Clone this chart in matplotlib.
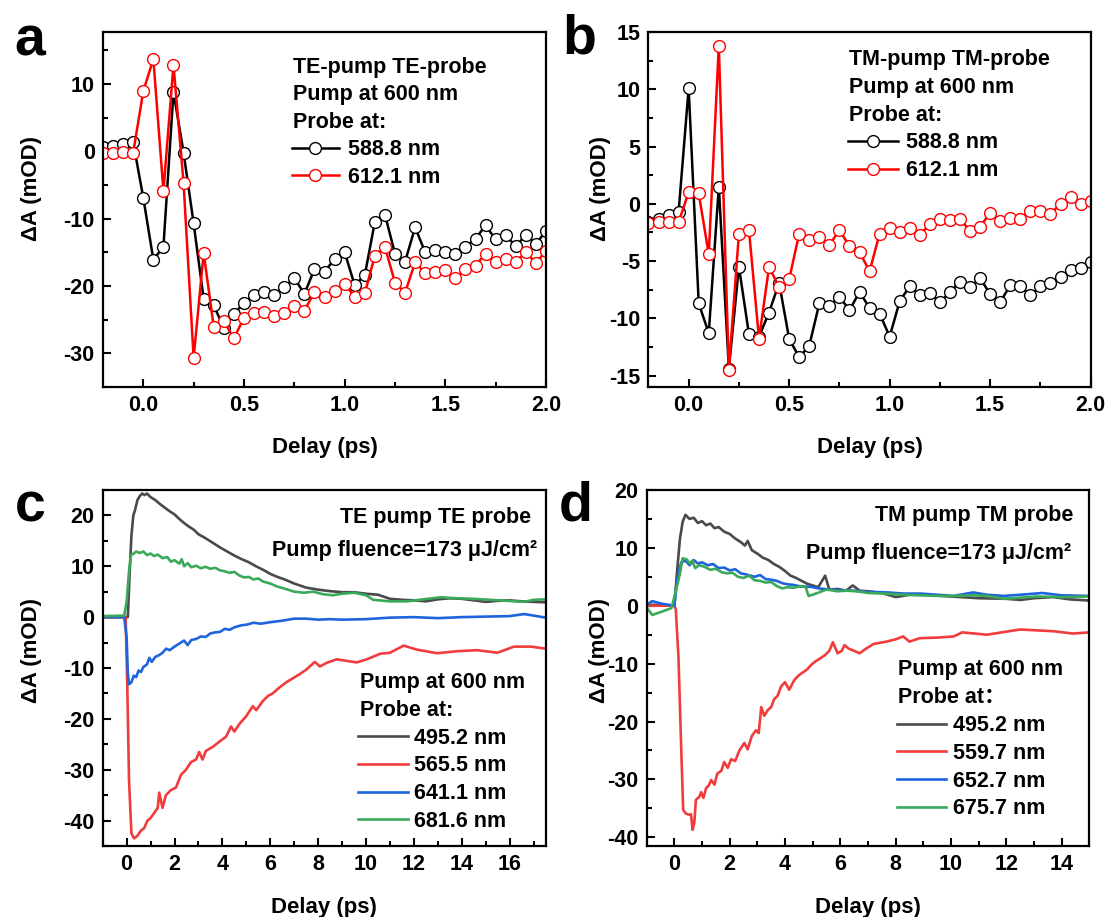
import matplotlib
matplotlib.use('Agg')
import matplotlib.pyplot as plt
from matplotlib.ticker import MultipleLocator
import numpy as np

plt.rcParams['font.family'] = ['Liberation Sans', 'DejaVu Sans']
plt.rcParams['font.weight'] = 'bold'
plt.rcParams['axes.labelweight'] = 'bold'
plt.rcParams['axes.unicode_minus'] = False

# ---- panel a / b : short delay, 0.05 ps steps ----
delay_short = np.round(np.arange(-0.2, 2.0001, 0.05), 2)

a_588 = [0.6, 0.8, 1.0, 1.3, -6.9, -16.1, -14.2, 8.8, -0.2, -10.7, -22.0, -22.9,
         -26.2, -24.1, -22.6, -21.3, -20.9, -21.3, -20.2, -18.8, -21.2, -17.5,
         -17.9, -16.0, -15.0, -19.9, -18.4, -10.5, -9.4, -15.2, -16.4, -11.3,
         -15.0, -14.7, -15.0, -15.3, -14.2, -13.0, -11.0, -13.1, -12.5, -14.1,
         -12.4, -13.8, -11.8]
a_612 = [-0.2, -0.2, -0.1, -0.2, 8.9, 13.7, -5.9, 12.8, -4.7, -30.7, -15.1, -26.1,
         -25.2, -27.8, -24.7, -24.0, -23.8, -24.5, -24.0, -23.0, -23.7, -20.9,
         -21.6, -20.8, -19.7, -21.6, -21.1, -15.5, -14.2, -19.5, -21.0, -16.5,
         -18.1, -17.9, -17.6, -18.8, -17.5, -17.0, -15.2, -16.5, -16.0, -16.4,
         -15.0, -16.6, -14.8]

b_588 = [-1.6, -1.3, -1.0, -0.7, 10.1, -8.7, -11.3, 1.5, -14.4, -5.5, -11.4, -11.6,
         -9.5, -6.9, -11.8, -13.4, -12.4, -8.7, -8.9, -8.1, -9.3, -7.7, -9.1,
         -9.6, -11.6, -8.5, -7.2, -8.0, -7.8, -8.6, -7.7, -6.8, -7.3, -6.5,
         -7.9, -8.6, -7.1, -7.2, -8.0, -7.2, -6.9, -6.4, -5.8, -5.6, -5.1]
b_612 = [-1.7, -1.6, -1.6, -1.6, 1.0, 0.9, -4.4, 13.8, -14.5, -2.6, -2.3, -11.8,
         -5.5, -7.3, -6.6, -2.6, -3.2, -2.9, -3.6, -2.3, -3.7, -4.2, -5.9, -2.6,
         -2.1, -2.5, -2.1, -2.7, -1.8, -1.3, -1.4, -1.3, -2.4, -2.0, -0.8, -1.5,
         -1.2, -1.3, -0.6, -0.6, -0.9, 0.0, 0.6, 0.0, 0.2]

# ---- panel c : TE pump TE probe ----
c_495_x = [-1, 0.05, 0.12, 0.2, 0.28, 0.35, 0.45, 0.55, 0.65, 0.75, 0.85, 1.0, 1.2,
           1.4, 1.6, 1.8, 2.0, 2.2, 2.4, 2.6, 2.8, 3.0, 3.3, 3.6, 3.9, 4.2, 4.5,
           4.8, 5.1, 5.4, 5.7, 6.0, 6.3, 6.6, 7.0, 7.5, 8.0, 8.5, 9.0, 9.5, 10.0,
           10.5, 11.0, 11.5, 12.0, 12.5, 13.0, 13.5, 14.0, 14.5, 15.0, 15.5, 16.0,
           16.5, 17.0, 17.5]
c_495_y = [0, 0, 8, 16, 20, 21, 23, 23.8, 24.3, 24.0, 24.3, 23.6, 23.0, 22.2, 21.5,
           20.8, 20.2, 19.3, 18.5, 17.8, 17.2, 16.3, 15.5, 14.6, 13.7, 12.9, 12.1,
           11.4, 10.8, 10.0, 9.3, 8.5, 7.9, 7.4, 6.6, 5.8, 5.4, 5.1, 4.9, 4.9, 4.6,
           4.4, 3.6, 3.4, 3.3, 3.1, 3.5, 3.7, 3.6, 3.3, 3.0, 3.2, 3.3, 3.1, 3.0, 2.9]

c_565_x = [-1, -0.04, 0.03, 0.1, 0.2, 0.31, 0.45, 0.59, 0.73, 0.87, 1.0, 1.15, 1.3,
           1.36, 1.5, 1.64, 1.85, 2.06, 2.27, 2.48, 2.69, 2.9, 3.03, 3.17, 3.31, 3.6,
           3.87, 4.15, 4.36, 4.5, 4.71, 4.99, 5.27, 5.41, 5.69, 5.9, 6.1, 6.39, 6.67,
           6.95, 7.23, 7.51, 7.86, 8.07, 8.35, 8.77, 9.19, 9.61, 10.03, 10.59, 11.0,
           11.57, 12.13, 12.97, 13.8, 14.64, 15.48, 16.18, 16.88, 17.5]
c_565_y = [0, 0, -14, -32, -42.5, -43.5, -43, -42, -41.5, -40, -39.5, -38.5, -37.5,
           -34.5, -37.5, -35, -34, -33.5, -31, -30, -28.5, -28, -26.5, -28, -26.3,
           -25.5, -24.5, -23.5, -21.5, -22.5, -21, -19.5, -17.5, -18.3, -16.5, -15.5,
           -15, -13.8, -12.8, -12, -11.2, -10.3, -8.8, -9.7, -9.0, -8.3, -8.6, -8.9,
           -8.3, -7.2, -7.0, -5.6, -6.4, -7.1, -6.7, -6.5, -7.0, -5.8, -5.8, -6.2]

c_641_x = [-1, -0.1, 0.0, 0.05, 0.1, 0.2, 0.3, 0.4, 0.5, 0.6, 0.7, 0.85, 0.95, 1.05,
           1.2, 1.35, 1.5, 1.65, 1.8, 2.0, 2.2, 2.4, 2.55, 2.7, 2.9, 3.1, 3.3, 3.5,
           3.7, 3.9, 4.1, 4.3, 4.5, 4.8, 5.0, 5.3, 5.6, 6.0, 6.5, 7.0, 7.5, 8.0, 8.5,
           9.0, 10.0, 11.0, 12.0, 13.0, 14.0, 15.0, 16.0, 16.6, 17.0, 17.5]
c_641_y = [0, 0, -4, -11, -13.2, -12.8, -11.5, -11.8, -10.5, -10.8, -9.8, -9.3, -8.0,
           -8.8, -7.8, -7.5, -7.0, -6.2, -6.5, -5.8, -5.2, -4.6, -5.5, -4.5, -4.3,
           -3.8, -3.9, -3.2, -3.0, -2.9, -2.3, -2.5, -2.0, -1.6, -1.5, -1.1, -1.3,
           -1.0, -0.7, -0.3, -0.3, -0.5, -0.4, -0.5, -0.4, -0.1, 0.0, -0.2, 0.0, 0.1,
           0.2, 0.6, 0.3, -0.1]

c_681_x = [-1, -0.1, 0.0, 0.1, 0.18, 0.3, 0.4, 0.55, 0.7, 0.85, 1.0, 1.15, 1.3, 1.5,
           1.7, 1.85, 2.0, 2.2, 2.3, 2.4, 2.55, 2.7, 2.9, 3.1, 3.3, 3.5, 3.7, 3.9,
           4.1, 4.3, 4.5, 4.7, 4.9, 5.1, 5.3, 5.5, 5.7, 6.0, 6.3, 6.6, 7.0, 7.4, 7.8,
           8.2, 8.6, 9.0, 9.5, 10.0, 10.3, 11.0, 11.7, 12.4, 13.1, 13.8, 14.5, 15.2,
           15.9, 16.6, 17.0, 17.5]
c_681_y = [0.2, 0.3, 3, 9, 12.2, 12.5, 12.9, 12.6, 12.9, 12.2, 12.5, 12.0, 12.3, 11.6,
           11.8, 10.9, 11.2, 10.5, 11.4, 10.0, 10.6, 9.8, 10.1, 9.6, 9.9, 9.5, 9.7,
           9.2, 9.0, 8.7, 8.9, 8.2, 7.8, 7.9, 7.4, 7.6, 7.0, 6.6, 6.0, 5.6, 5.0, 4.8,
           5.0, 4.5, 4.3, 4.6, 4.8, 4.3, 3.4, 3.1, 3.1, 3.5, 3.9, 3.7, 3.6, 3.4, 3.2,
           3.0, 3.4, 3.5]

# ---- panel d : TM pump TM probe ----
d_495_x = [-1, -0.5, 0.0, 0.1, 0.2, 0.3, 0.4, 0.55, 0.7, 0.85, 1.0, 1.15, 1.3, 1.45,
           1.6, 1.8, 2.0, 2.2, 2.4, 2.55, 2.65, 2.8, 3.0, 3.2, 3.4, 3.6, 3.8, 4.0,
           4.2, 4.4, 4.6, 4.8, 5.0, 5.2, 5.45, 5.6, 5.9, 6.2, 6.45, 6.7, 7.0, 7.5,
           8.0, 8.5, 9.0, 10.0, 11.0, 12.0, 12.5, 13.0, 13.7, 14.3, 15.0]
d_495_y = [0.2, 0.1, 0.0, 6, 11.5, 14.5, 15.7, 15.0, 15.2, 14.3, 14.6, 13.9, 14.2,
           13.4, 13.6, 12.8, 12.4, 11.6, 11.0, 10.4, 11.2, 9.6, 9.0, 8.3, 7.9, 7.2,
           6.7, 6.0, 5.2, 4.8, 4.3, 3.8, 3.5, 3.2, 5.2, 2.8, 2.9, 2.6, 3.5, 2.6, 2.5,
           2.2, 1.5, 1.9, 1.9, 1.6, 1.3, 1.2, 1.0, 1.3, 1.5, 1.1, 0.9]

d_559_x = [-1, 0.0, 0.05, 0.15, 0.25, 0.32, 0.42, 0.54, 0.6, 0.66, 0.72, 0.78, 0.9,
           0.97, 1.05, 1.15, 1.25, 1.33, 1.45, 1.55, 1.7, 1.8, 1.93, 2.05, 2.2, 2.35,
           2.53, 2.65, 2.8, 2.95, 3.05, 3.14, 3.25, 3.38, 3.5, 3.6, 3.74, 3.85, 4.0,
           4.15, 4.34, 4.5, 4.65, 4.8, 4.95, 5.1, 5.3, 5.45, 5.6, 5.73, 5.9, 6.05,
           6.15, 6.3, 6.5, 6.7, 6.9, 7.2, 7.66, 8.0, 8.27, 8.5, 8.87, 9.5, 10.1, 10.4,
           11.3, 12.5, 13.7, 14.4, 15.0]
d_559_y = [0, 0, -0.5, -9, -25, -35.3, -35.9, -36.1, -36.0, -38.7, -37.5, -33.5, -33.0,
           -32.2, -33.2, -31.5, -31.0, -30.1, -30.9, -29.0, -28.5, -27.0, -28.0, -26.5,
           -26.8, -25.0, -23.7, -24.8, -22.5, -21.5, -22.0, -17.5, -19.0, -18.0, -17.5,
           -16.2, -15.5, -14.0, -13.2, -14.5, -12.8, -12.0, -11.5, -11.0, -10.2, -9.6,
           -9.0, -8.5, -7.8, -6.3, -8.2, -7.8, -6.8, -7.4, -7.8, -8.2, -7.5, -6.6,
           -6.2, -5.8, -5.3, -6.2, -5.6, -5.5, -5.3, -4.6, -5.0, -4.1, -4.4, -4.8, -4.6]

d_652_x = [-1, -0.8, -0.5, 0.0, 0.1, 0.25, 0.4, 0.55, 0.7, 0.85, 1.0, 1.2, 1.4, 1.6,
           1.8, 2.0, 2.2, 2.4, 2.6, 2.9, 3.1, 3.3, 3.5, 3.7, 3.9, 4.1, 4.3, 4.6, 4.9,
           5.2, 5.6, 6.0, 6.5, 7.0, 7.7, 8.3, 8.9, 9.5, 10.1, 10.8, 11.3, 11.9, 12.5,
           13.3, 14.0, 15.0]
d_652_y = [0.2, 0.8, 0.4, 0.0, 4.5, 7.5, 7.8, 7.0, 7.9, 7.3, 7.5, 7.0, 7.2, 6.5, 6.6,
           6.1, 6.3, 5.6, 5.4, 5.0, 5.3, 4.6, 4.5, 4.3, 3.9, 3.7, 3.6, 3.3, 3.3, 3.0,
           2.8, 2.7, 2.6, 2.4, 2.3, 2.1, 2.1, 1.9, 1.7, 2.3, 1.9, 1.7, 1.9, 2.2, 1.8,
           1.7]

d_675_x = [-1, -0.8, -0.5, -0.1, 0.1, 0.2, 0.3, 0.45, 0.55, 0.65, 0.75, 0.9, 1.1, 1.3,
           1.5, 1.7, 1.9, 2.1, 2.3, 2.5, 2.7, 2.9, 3.1, 3.3, 3.5, 3.7, 3.9, 4.1, 4.3,
           4.6, 4.75, 4.85, 5.0, 5.5, 5.9, 6.2, 6.6, 7.0, 7.6, 8.3, 8.9, 9.5, 10.1,
           10.8, 11.3, 11.9, 12.5, 13.1, 14.0, 15.0]
d_675_y = [-0.3, -1.6, -1.1, -0.4, 3.5, 5.5, 8.2, 8.0, 7.3, 7.8, 6.5, 7.0, 6.7, 6.2,
           6.4, 5.8, 5.6, 5.7, 5.0, 4.8, 5.2, 4.4, 4.3, 4.0, 4.1, 3.4, 3.0, 3.2, 3.1,
           3.4, 3.2, 1.7, 1.9, 2.8, 2.5, 2.6, 2.5, 2.2, 2.1, 1.9, 1.8, 1.7, 1.7, 1.8,
           1.7, 1.2, 1.4, 1.6, 1.5, 1.6]

GRAY = '#4a4a4a'
RED = '#f03c3c'
BLUE = '#1e64dc'
GREEN = '#3aaa5a'

FS = 15.5

fig = plt.figure(figsize=(11.1, 9.17), dpi=100)
ax_a = fig.add_axes([0.0928, 0.578, 0.3991, 0.3871])
ax_b = fig.add_axes([0.5842, 0.578, 0.3984, 0.3871])
ax_c = fig.add_axes([0.0925, 0.0774, 0.3991, 0.3883])
ax_d = fig.add_axes([0.5826, 0.0774, 0.3988, 0.3883])


def style(ax, xmaj, xmin, ymaj, ymin):
    for s in ax.spines.values():
        s.set_linewidth(1.6)
    ax.xaxis.set_major_locator(MultipleLocator(xmaj))
    ax.xaxis.set_minor_locator(MultipleLocator(xmin))
    ax.yaxis.set_major_locator(MultipleLocator(ymaj))
    ax.yaxis.set_minor_locator(MultipleLocator(ymin))
    ax.tick_params(which='both', direction='in', top=False, right=False,
                   width=1.5, labelsize=FS, pad=6)
    ax.tick_params(which='major', length=6)
    ax.tick_params(which='minor', length=3.5)
    ax.set_xlabel('Delay (ps)', fontsize=FS + 0.5)
    ax.set_ylabel('ΔA (mOD)', fontsize=FS + 0.5)


def marker_panel(ax, y_black, y_red):
    kw = dict(marker='o', markersize=8.5, markerfacecolor='white',
              markeredgewidth=1.0, linewidth=1.8)
    l1, = ax.plot(delay_short, y_black, color='black', markeredgecolor='black', **kw)
    l2, = ax.plot(delay_short, y_red, color='red', markeredgecolor='red', **kw)
    return [l1, l2]


leg_kw = dict(loc='upper left', frameon=False, fontsize=FS, borderpad=0,
              borderaxespad=0, labelspacing=0.31)

# panel a
lines = marker_panel(ax_a, a_588, a_612)
style(ax_a, 0.5, 0.25, 10, 5)
ax_a.set_xlim(-0.2, 2.0)
ax_a.set_ylim(-35, 17.7)
ax_a.xaxis.set_major_formatter(plt.FormatStrFormatter('%.1f'))
for yy, txt in zip([0.885, 0.808, 0.729], ['TE-pump TE-probe', 'Pump at 600 nm', 'Probe at:']):
    ax_a.text(0.429, yy, txt, transform=ax_a.transAxes, fontsize=FS, va='baseline')
ax_a.legend(lines, ['588.8 nm', '612.1 nm'], bbox_to_anchor=(0.426, 0.698),
            handlelength=2.2, handletextpad=0.4, numpoints=1, **leg_kw)

# panel b
lines = marker_panel(ax_b, b_588, b_612)
style(ax_b, 0.5, 0.25, 5, 2.5)
ax_b.set_xlim(-0.2, 2.0)
ax_b.set_ylim(-16, 15)
ax_b.xaxis.set_major_formatter(plt.FormatStrFormatter('%.1f'))
for yy, txt in zip([0.907, 0.829, 0.750], ['TM-pump TM-probe', 'Pump at 600 nm', 'Probe at:']):
    ax_b.text(0.454, yy, txt, transform=ax_b.transAxes, fontsize=FS, va='baseline')
ax_b.legend(lines, ['588.8 nm', '612.1 nm'], bbox_to_anchor=(0.452, 0.717),
            handlelength=2.3, handletextpad=0.4, numpoints=1, **leg_kw)

# panel c
lw = 1.9
lc = [ax_c.plot(c_495_x, c_495_y, color=GRAY, lw=lw)[0],
      ax_c.plot(c_565_x, c_565_y, color=RED, lw=lw)[0],
      ax_c.plot(c_641_x, c_641_y, color=BLUE, lw=lw)[0],
      ax_c.plot(c_681_x, c_681_y, color=GREEN, lw=lw)[0]]
style(ax_c, 2, 1, 10, 5)
ax_c.set_xlim(-1, 17.5)
ax_c.set_ylim(-45, 25)
ax_c.text(0.968, 0.906, 'TE pump TE probe', transform=ax_c.transAxes, fontsize=FS,
          ha='right', va='baseline')
ax_c.text(0.980, 0.815, 'Pump fluence=173 μJ/cm²', transform=ax_c.transAxes, fontsize=FS,
          ha='right', va='baseline')
ax_c.text(0.581, 0.443, 'Pump at 600 nm', transform=ax_c.transAxes, fontsize=FS, va='baseline')
ax_c.text(0.581, 0.366, 'Probe at:', transform=ax_c.transAxes, fontsize=FS, va='baseline')
ax_c.legend(lc, ['495.2 nm', '565.5 nm', '641.1 nm', '681.6 nm'],
            bbox_to_anchor=(0.577, 0.332), handlelength=2.3, handletextpad=0.3, **leg_kw)

# panel d
ld = [ax_d.plot(d_495_x, d_495_y, color=GRAY, lw=lw)[0],
      ax_d.plot(d_559_x, d_559_y, color=RED, lw=lw)[0],
      ax_d.plot(d_652_x, d_652_y, color=BLUE, lw=lw)[0],
      ax_d.plot(d_675_x, d_675_y, color=GREEN, lw=lw)[0]]
style(ax_d, 2, 1, 10, 5)
ax_d.set_xlim(-1, 15)
ax_d.set_ylim(-41.5, 20)
ax_d.text(0.965, 0.914, 'TM pump TM probe', transform=ax_d.transAxes, fontsize=FS,
          ha='right', va='baseline')
ax_d.text(0.958, 0.805, 'Pump fluence=173 μJ/cm²', transform=ax_d.transAxes, fontsize=FS,
          ha='right', va='baseline')
ax_d.text(0.568, 0.480, 'Pump at 600 nm', transform=ax_d.transAxes, fontsize=FS, va='baseline')
ax_d.text(0.568, 0.402, 'Probe at：', transform=ax_d.transAxes, fontsize=FS, va='baseline',
          family=['Liberation Sans', 'Noto Sans CJK SC'])
ax_d.legend(ld, ['495.2 nm', '559.7 nm', '652.7 nm', '675.7 nm'],
            bbox_to_anchor=(0.565, 0.367), handlelength=2.3, handletextpad=0.3, **leg_kw)

# label positions
ax_a.yaxis.set_label_coords(-0.137, 0.56)
ax_b.yaxis.set_label_coords(-0.084, 0.56)
ax_c.yaxis.set_label_coords(-0.137, 0.55)
ax_d.yaxis.set_label_coords(-0.084, 0.55)
for ax in (ax_a, ax_b):
    ax.xaxis.set_label_coords(0.5, -0.142)
for ax in (ax_c, ax_d):
    ax.xaxis.set_label_coords(0.5, -0.143)

# panel letters
for x, y, letter in [(0.013, 0.940, 'a'), (0.507, 0.942, 'b'),
                     (0.013, 0.431, 'c'), (0.503, 0.432, 'd')]:
    fig.text(x, y, letter, fontsize=40, fontweight='bold', va='baseline')

fig.savefig('out.png', dpi=100)
